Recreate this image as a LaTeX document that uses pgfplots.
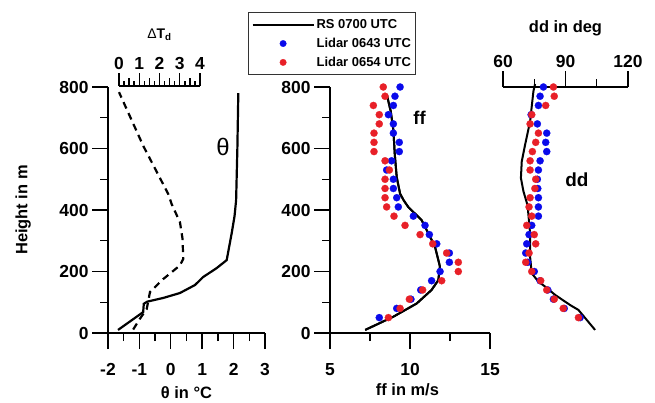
\documentclass[border=0pt]{standalone}
\usepackage{fontspec}
\setmainfont{Liberation Sans}
\usepackage{pgfplots}
\usepackage{pgfplotstable}
\pgfplotsset{compat=1.18}
\definecolor{lidarblue}{RGB}{10,10,235}
\definecolor{lidarred}{RGB}{232,32,40}

% height in m, potential temperature / dew point depression
\pgfplotstableread{
x h
-1.68 10
-0.88 68
-0.86 95
-0.75 102
-0.24 114
0.29 130
0.77 156
1.03 182
1.46 211
1.78 237
1.94 325
2.03 380
2.08 432
2.12 600
2.15 780
}\thetatab
\pgfplotstableread{
x h
0.70 8
1.00 40
1.37 75
1.53 130
2.18 172
3.00 216
3.17 237
3.14 302
3.01 357
2.60 416
2.43 449
1.20 605
0.00 780
}\dewtab
% wind speed
\pgfplotstableread{
x h
7.20 10
8.96 53
10.42 96
11.35 140
11.77 172
11.87 216
11.56 281
10.73 367
9.90 409
9.60 432
9.38 453
9.17 507
9.05 580
8.96 660
8.80 720
8.55 775
}\ffrs
\pgfplotstableread{
h b r
800 9.38 8.33
770 9.06 8.44
740 8.96 7.71
710 8.65 8.08
680 8.96 8.08
650 8.96 7.75
620 9.33 7.75
590 9.33 7.75
560 8.85 8.44
530 8.54 8.71
500 8.96 8.44
470 8.96 8.44
440 9.17 8.44
410 9.27 8.54
380 10.21 9.00
350 10.94 9.69
320 11.21 10.63
290 11.67 11.42
260 12.46 12.29
230 12.46 13.02
200 11.88 13.02
170 11.35 11.98
140 10.67 10.79
110 10.06 9.96
80 9.17 9.38
50 8.08 8.65
}\fflidar
% wind direction
\pgfplotstableread{
x h
104.2 10
96.2 75
92.2 91
85.0 124
80.2 151
77.0 167
73.8 194
73.0 248
73.0 324
71.8 415
69.8 461
68.6 504
69.0 558
70.6 612
73.0 688
74.6 786
75.4 810
}\ddrs
\pgfplotstableread{
h b r
800 79.4 84.2
770 77.8 84.6
740 77.0 80.5
710 73.5 73.8
680 76.5 73.0
650 81.0 77.0
620 80.5 75.7
590 81.0 74.1
560 77.8 73.0
530 77.0 73.0
500 76.5 75.7
470 76.7 75.3
440 77.0 73.0
410 77.0 72.5
380 77.0 73.8
350 73.8 71.4
320 72.5 75.0
290 71.4 75.7
260 70.9 72.5
230 71.9 70.9
200 75.0 73.8
170 77.8 78.1
140 81.5 81.0
110 84.2 84.6
80 89.4 88.9
50 97.0 96.2
}\ddlidar

\pgfplotsset{
  panel/.style={
    scale only axis, anchor=south west, clip=false,
    ymin=0, ymax=800, height=246bp,
    axis line style={line width=1.4bp},
    tick align=outside, major tick length=16bp, minor tick length=8bp,
    every tick/.style={line width=1.4bp, black},
    tick label style={font=\fontsize{17.5}{17.5}\selectfont\bfseries},
    label style={font=\fontsize{16.5}{16.5}\selectfont\bfseries},
    /pgf/number format/assume math mode=true,
  },
  lidar/.style={only marks, mark=*, mark size=3.6bp, color=#1,
    mark options={fill=#1, draw=#1, line width=0.2bp}},
  rsleg/.style={legend image code/.code={\draw[##1] (0bp,0bp) -- (61bp,0bp);}},
  dotleg/.style={legend image code/.code={\draw[mark repeat=2, mark phase=2, ##1, mark size=3.3bp]
    plot coordinates {(0bp,0bp) (30.5bp,0bp) (61bp,0bp)};}},
}

\begin{document}
\begin{tikzpicture}
\path[use as bounding box] (0,0) rectangle (655bp,403bp);

% theta panel
\begin{axis}[panel, at={(108bp,70bp)}, width=157bp, xmin=-2, xmax=3,
  axis x line*=bottom, axis y line*=left,
  xtick={-2,...,3}, minor xtick={-1.5,-0.5,...,2.5},
  ytick={0,200,...,800}, minor ytick={100,300,500,700},
  xticklabel style={yshift=-11bp},
  xlabel={θ in °C}, ylabel={Height in m},
  xlabel style={at={(axis description cs:0.5,-0.244)}, anchor=center},
  ylabel style={at={(axis description cs:-0.541,0.5)}, anchor=center}]
\addplot[line width=2.2bp] table[x=x, y=h] {\thetatab};
\node[font=\fontsize{24}{24}\selectfont] at (axis cs:1.66,605) {θ};
\end{axis}

% dew point depression, top scale
\begin{axis}[panel, at={(119bp,71bp)}, width=81bp, xmin=0, xmax=4,
  axis x line*=top, axis y line=none, ytick=\empty,
  xtick={0,...,4}, major tick length=13bp,
  minor xtick={0.25,0.75,...,3.75}, minor tick length=5bp,
  extra x ticks={0.5,1.5,2.5,3.5}, extra x tick labels={},
  extra tick style={major tick length=8bp},
  xlabel={{\mdseries Δ}T\textsubscript{d}},
  xlabel style={font=\fontsize{14}{14}\selectfont\bfseries,
    at={(axis description cs:0.5,1.207)}, anchor=center}]
\addplot[line width=2.2bp, dash pattern=on 7bp off 5bp] table[x=x, y=h] {\dewtab};
\end{axis}

% wind speed panel
\begin{axis}[panel, at={(330bp,70bp)}, width=160bp, xmin=5, xmax=15,
  axis x line*=bottom, axis y line*=left,
  xtick={5,10,15}, minor xtick={7.5,12.5},
  ytick={0,200,...,800}, minor ytick={100,300,500,700},
  xticklabel style={yshift=-11bp},
  xlabel={ff in m/s},
  xlabel style={at={(axis description cs:0.484,-0.232)}, anchor=center},
  legend style={at={(axis description cs:-0.5125,1.305)}, anchor=north west,
    draw=black!80, line width=1.2bp, fill=white,
    font=\fontsize{13}{13}\selectfont\bfseries,
    cells={anchor=west}, inner xsep=3bp, inner ysep=5bp, row sep=4bp}]
\addplot[line width=2bp, rsleg] table[x=x, y=h] {\ffrs};
\addlegendentry{RS 0700 UTC}
\addplot[lidar=lidarblue, dotleg] table[x=b, y=h] {\fflidar};
\addlegendentry{Lidar 0643 UTC}
\addplot[lidar=lidarred, dotleg] table[x=r, y=h] {\fflidar};
\addlegendentry{Lidar 0654 UTC}
\addplot[line width=2bp, forget plot] table[x=x, y=h] {\ffrs};
\node[font=\fontsize{18.5}{18.5}\selectfont\bfseries] at (axis cs:10.6,699) {ff};
\end{axis}

% wind direction panel
\begin{axis}[panel, at={(503bp,70bp)}, width=125bp, xmin=60, xmax=120,
  axis x line*=top, axis y line=none, ytick=\empty,
  xtick={60,90,120}, minor xtick={75,105},
  xlabel={dd in deg},
  xlabel style={at={(axis description cs:0.5,1.24)}, anchor=center}]
\addplot[lidar=lidarblue] table[x=b, y=h] {\ddlidar};
\addplot[lidar=lidarred] table[x=r, y=h] {\ddlidar};
\addplot[line width=2bp] table[x=x, y=h] {\ddrs};
\node[font=\fontsize{19}{19}\selectfont\bfseries] at (axis cs:95.5,498) {dd};
\end{axis}
\end{tikzpicture}
\end{document}
